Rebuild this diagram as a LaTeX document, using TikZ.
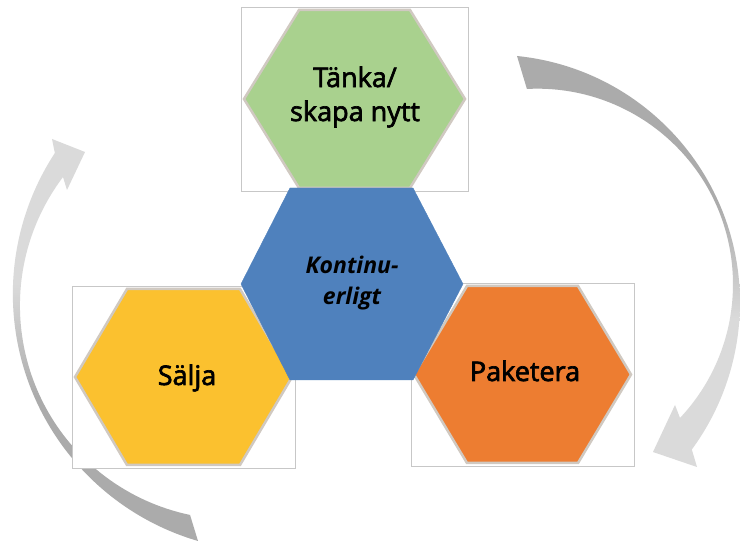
\documentclass[tikz,border=0pt]{standalone}
\usepackage{fontspec}
\setmainfont{Open Sans}
\newfontfamily\hexfont{Open Sans}[FakeBold=2.5]
\definecolor{hexgreen}{HTML}{A9D18E}
\definecolor{hexblue}{HTML}{4F81BD}
\definecolor{hexyellow}{HTML}{FBC12F}
\definecolor{hexorange}{HTML}{ED7D31}
\definecolor{hexedge}{HTML}{D0C9C1}
\definecolor{arrowdark}{HTML}{ABABAB}
\definecolor{arrowlight}{HTML}{DADADA}
\pgfdeclareverticalshading{cycleshade}{100bp}{color(0bp)=(arrowlight); color(43bp)=(arrowlight); color(57bp)=(arrowdark); color(100bp)=(arrowdark)}

\begin{document}
\begin{tikzpicture}[x=1pt, y=1pt,
  frame/.style={draw=black!22, line width=0.7pt, fill=white},
  hexa/.style={draw=hexedge, line width=2.5pt, line join=miter},
  lbl/.style={font=\hexfont\fontsize{27}{34}\selectfont, align=center, inner sep=0pt},
  cyclearrow/.style={shading=cycleshade}]
\path[use as bounding box, fill=white] (0,0) rectangle (740,541);
\shade[cyclearrow] (517,485) arc[start angle=84.2, end angle=-36.3, radius=248] -- (697,74) -- (653,89) -- (675,136) -- (680,123) arc[start angle=-43.2, end angle=93.1, radius=195.5] -- cycle;
\shade[cyclearrow, shading angle=180] (198,0) arc[start angle=253.7, end angle=146.8, radius=257.4] -- (52,402) -- (85,389) -- (67,351) -- (63,364) arc[start angle=143, end angle=258.2, radius=213.8] -- cycle;
\foreach \x/\y/\w/\h/\s/\c in {354.5/442/221/178/55/hexgreen, 183.5/164/217/176/52/hexyellow, 522.5/166.5/217/177/53/hexorange} {
  \draw[frame] (\x-\w/2-3,\y-\h/2-3) rectangle (\x+\w/2+3,\y+\h/2+3);
  \draw[hexa, fill=\c] (\x-\w/2,\y) -- (\x-\w/2+\s,\y+\h/2) -- (\x+\w/2-\s,\y+\h/2) -- (\x+\w/2,\y) -- (\x+\w/2-\s,\y-\h/2) -- (\x-\w/2+\s,\y-\h/2) -- cycle;
}
\draw[fill=hexblue, draw=hexblue] (241,257) -- (290,353) -- (413,353) -- (463,257) -- (413,161) -- (290,161) -- cycle;
\node[lbl] (think) at (355,444) {Tänka/\\skapa nytt};
\node[lbl, font=\fontsize{23}{31}\selectfont\bfseries\itshape] (core) at (352,258) {Kontinu-\\erligt};
\node[lbl, anchor=base] (sell) at (187,156) {Sälja};
\node[lbl, anchor=base] (pack) at (525,160) {Paketera};
\end{tikzpicture}
\end{document}
